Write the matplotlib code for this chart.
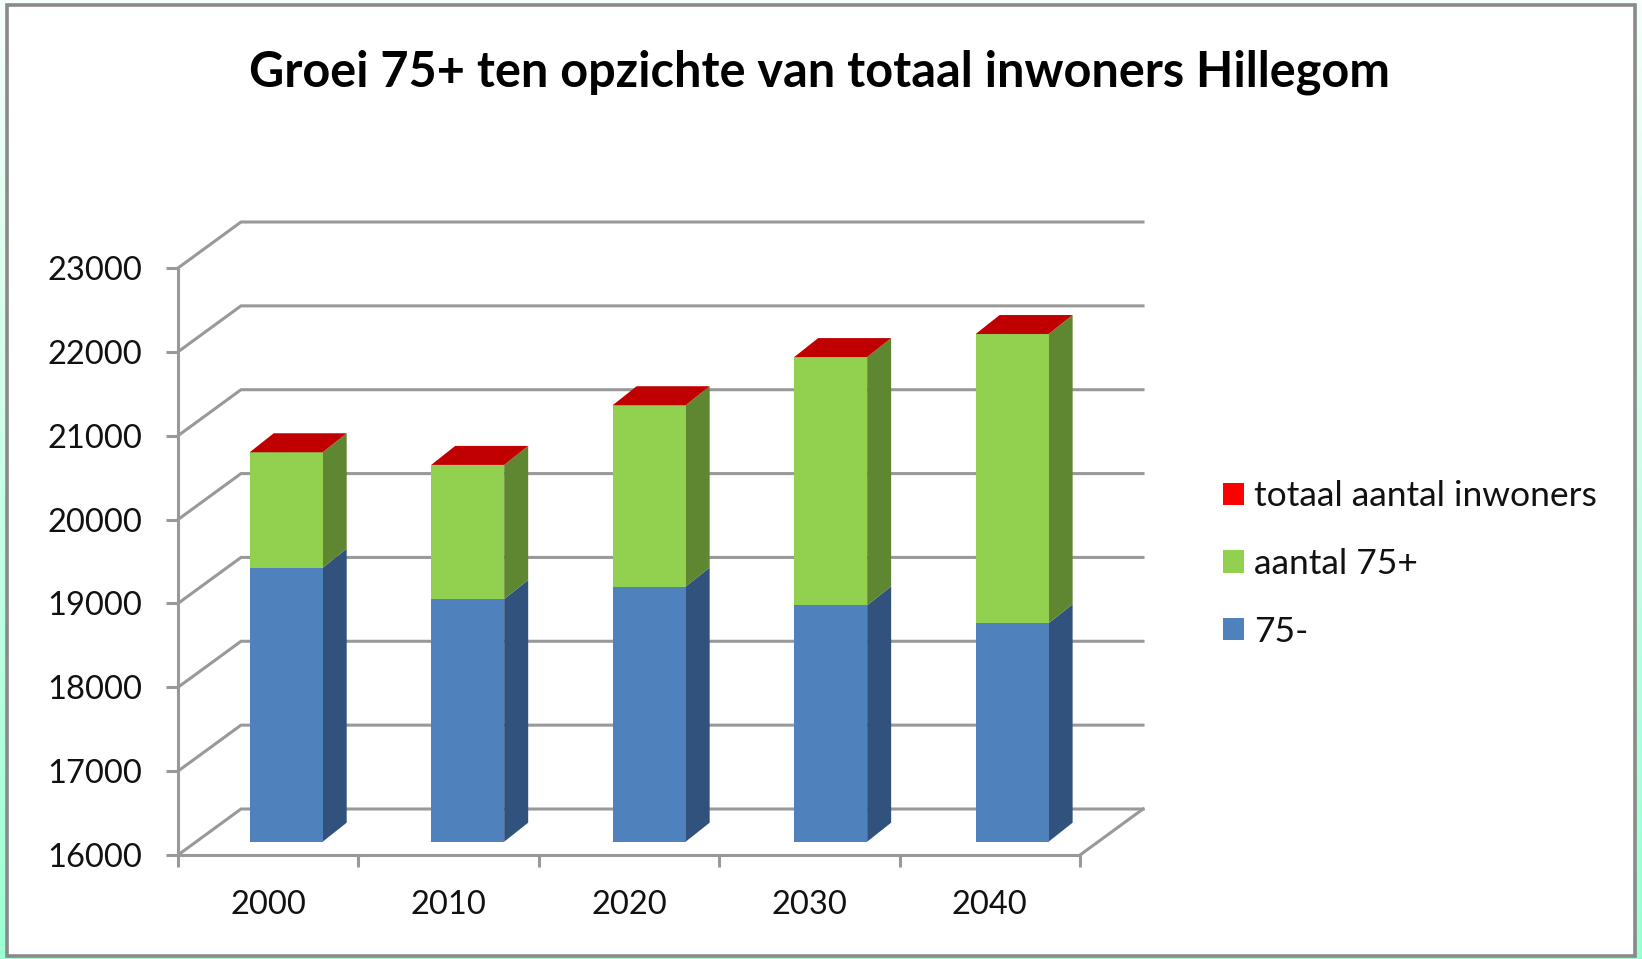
#!/usr/bin/env python
# -*- coding: utf-8 -*-

import matplotlib
matplotlib.use('Agg')
import matplotlib.pyplot as plt
import numpy as np
from matplotlib.patches import Patch, Rectangle

# Data
jaren = ['2000', '2010', '2020', '2030', '2040']
jonger_75 = [19267, 18894, 19043, 18819, 18606]
aantal_75 = [1376, 1598, 2161, 2959, 3447]
totaal = [1, 1, 1, 1, 1]
y_ticks = [16000, 17000, 18000, 19000, 20000, 21000, 22000, 23000]

plt.rcParams['font.family'] = ['Lato', 'DejaVu Sans']

W, H = 1642, 959
fig = plt.figure(figsize=(W / 100, H / 100), dpi=100, facecolor='white')

# Mint background behind the frame
bg = fig.add_axes([0, 0, 1, 1], zorder=0)
bg.imshow(np.linspace(0, 1, 256).reshape(-1, 1), aspect='auto',
          cmap=matplotlib.colors.LinearSegmentedColormap.from_list('m', ['#f6fffb', '#9dffd4']))
bg.axis('off')
fig.add_artist(Rectangle((7 / W, 1 - 956 / H), 1628 / W, 951 / H, transform=fig.transFigure,
                         facecolor='white', edgecolor='#8a8a8a', linewidth=2.6))

ax = fig.add_axes([178 / W, 1 - 855 / H, 902 / W, 587 / H], zorder=1)
ax.patch.set_alpha(0)
ax.set_xlim(0, 5)
ax.set_ylim(16000, 23000)

# Conversion of the pseudo 3D depth to data units
px_x = 5 / 902
px_y = 7000 / 587
wall_dx, wall_dy = 63 * px_x, 46 * px_y
bar_dx, bar_dy = 24 * px_x, 19 * px_y
off_x, off_y = 18 * px_x, 13.3 * px_y
width = 73 * px_x

grid_col = '#999999'
for v in y_ticks:
    ax.plot([0, wall_dx, 5 + wall_dx], [v, v + wall_dy, v + wall_dy], color=grid_col,
            lw=2.2, clip_on=False, zorder=1, solid_joinstyle='miter')
ax.plot([5, 5 + wall_dx], [16000, 16000 + wall_dy], color=grid_col, lw=2.2, clip_on=False, zorder=1)

# The bars drift slightly from the ticks, as in the original perspective
x = np.arange(len(jaren)) * 1.006 + 0.5 + off_x
base = np.full(len(jaren), 16000 + off_y)
heights = [np.array(jonger_75) - 16000, np.array(aantal_75), np.array(totaal)]
colors = [('#4f81bd', '#31527c'), ('#92d050', '#5f8732'), ('#ff0000', '#c00000')]

for vals, (front, side) in zip(heights, colors):
    ax.bar(x, vals, width=width, bottom=base, color=front, zorder=3, linewidth=0)
    top = base + vals
    for xi, b, t in zip(x + width / 2, base, top):
        ax.fill([xi, xi + bar_dx, xi + bar_dx, xi], [b, b + bar_dy, t + bar_dy, t],
                color=side, zorder=2.5, lw=0, clip_on=False)
    base = top

# Top of the stack is the darker red
for xi, t in zip(x, base):
    l, r = xi - width / 2, xi + width / 2
    ax.fill([l, r, r + bar_dx, l + bar_dx], [t, t, t + bar_dy, t + bar_dy],
            color='#c00000', zorder=3, lw=0, clip_on=False)

for s in ['top', 'right']:
    ax.spines[s].set_visible(False)
for s in ['left', 'bottom']:
    ax.spines[s].set_color(grid_col)
    ax.spines[s].set_linewidth(2.2)

ax.set_yticks(y_ticks)
ax.set_xticks(range(6))
ax.set_xticklabels([])
ax.set_xticks(np.arange(len(jaren)) + 0.5, labels=jaren, minor=True)
ax.tick_params(axis='y', which='major', length=8.6, width=2.2, color=grid_col, pad=17, labelsize=23.5, labelcolor='#111111')
ax.tick_params(axis='x', which='major', length=8.6, width=2.2, color=grid_col)
ax.tick_params(axis='x', which='minor', length=0, pad=25, labelsize=23.5, labelcolor='#111111')

fig.text(819 / W, 1 - 72 / H, 'Groei 75+ ten opzichte van totaal inwoners Hillegom',
         ha='center', va='center', fontsize=35, fontweight='bold', color='black')

handles = [Patch(color='#ff0000', lw=0), Patch(color='#92d050', lw=0), Patch(color='#4f81bd', lw=0)]
labels = ['totaal aantal inwoners', 'aantal 75+', '75-']
fig.legend(handles, labels, loc='center left', bbox_to_anchor=(1223 / W, 1 - 564 / H), frameon=False,
           fontsize=25.5, labelcolor='#111111', borderpad=0, borderaxespad=0, handlelength=0.59,
           handleheight=0.59, handletextpad=0.28, labelspacing=1.01)

plt.savefig('out.png', dpi=100)
